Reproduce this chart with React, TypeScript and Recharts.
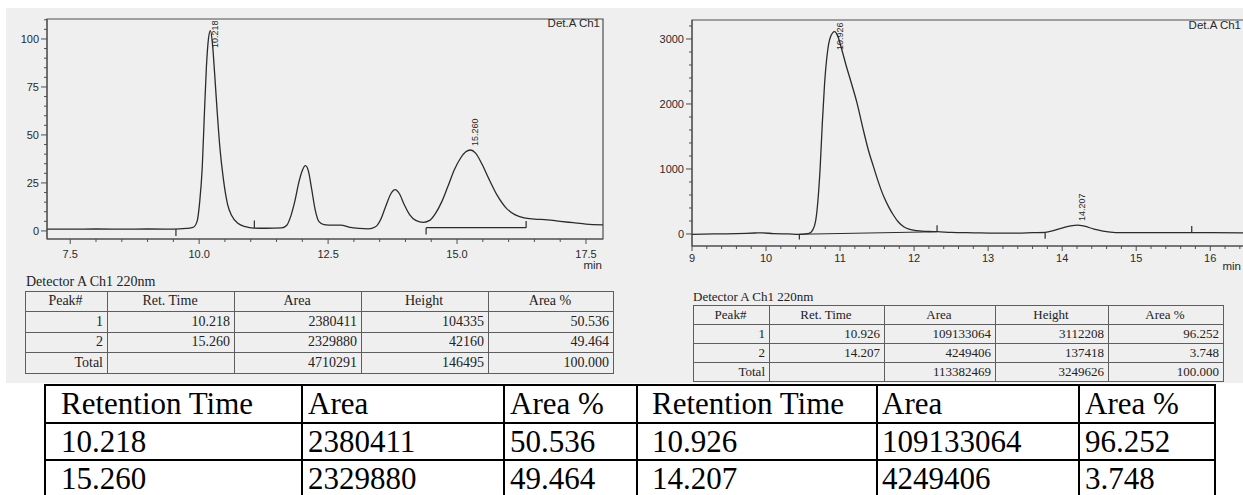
import { LineChart, Line, XAxis, YAxis, ReferenceArea, ReferenceLine, ReferenceDot } from 'recharts';

const INK = '#2b2b2b';
const AXIS = '#4e4e4e';
const SANS = '"Liberation Sans", Arial, sans-serif';
const SERIF = '"Liberation Serif", "Times New Roman", serif';

// Run A: detector signal (mAU) against retention time (min)
const traceA: [number, number][] = [
  [7.05, 0.9], [7.5, 0.9], [8.0, 1.0], [8.5, 0.9], [9.0, 1.0], [9.5, 0.9], [9.75, 1.3], [9.88, 1.8],
  [9.96, 5], [10.01, 15], [10.06, 33], [10.1, 60], [10.14, 85], [10.18, 100],
  [10.26, 97], [10.3, 82], [10.35, 62], [10.4, 44], [10.47, 27], [10.55, 14], [10.63, 8], [10.75, 4],
  [10.9, 2.2], [11.05, 1.5], [11.3, 1.4], [11.6, 1.6],
  [11.7, 3], [11.78, 8], [11.86, 16], [11.93, 25], [12.0, 31.5], [12.06, 34], [12.12, 31], [12.18, 22],
  [12.25, 11], [12.32, 5], [12.42, 3.3], [12.6, 3], [12.75, 3], [12.9, 2], [13.1, 1.3], [13.28, 1.1],
  [13.42, 2.2], [13.52, 6], [13.62, 13], [13.72, 19.5], [13.8, 21.5], [13.88, 19.5], [13.98, 13.5],
  [14.08, 8.5], [14.2, 5.5], [14.35, 4.5], [14.47, 5.5], [14.58, 9], [14.7, 15], [14.82, 23], [14.95, 32],
  [15.07, 38], [15.17, 41.2], [15.36, 40.5], [15.48, 35], [15.62, 27], [15.78, 18.5], [15.95, 12],
  [16.12, 8.5], [16.3, 6.8], [16.5, 6.2], [16.75, 5.8], [17.0, 5.0], [17.25, 4.3], [17.5, 3.6], [17.83, 3.2],
];
const peaksA = [
  { no: 1, rt: 10.218, area: 2380411, height: 104335, pct: 50.536 },
  { no: 2, rt: 15.26, area: 2329880, height: 42160, pct: 49.464 },
];
const totalA = { area: 4710291, height: 146495, pct: 100 };
// integration marks: time, level, tick length
const eventsA: [number, number, number][] = [[9.55, 0.9, -3.5], [11.07, 1.5, 4], [14.4, 1.7, -3.5], [16.34, 1.7, 3.5]];
const baselineA: [number, number][] = [[14.4, 1.7], [16.34, 1.7]];
const xMajorA = [7.5, 10, 12.5, 15, 17.5];
const yMajorA = [0, 25, 50, 75, 100];

// Run B
const traceB: [number, number][] = [
  [9.0, -5], [9.3, 0], [9.6, 5], [9.85, 15], [9.95, 18], [10.1, 5], [10.3, 0], [10.45, -5], [10.58, 10],
  [10.63, 60], [10.67, 200], [10.7, 500], [10.73, 1000], [10.76, 1700], [10.79, 2300], [10.83, 2800], [10.87, 3030],
  [10.97, 3040], [11.02, 2850], [11.08, 2600], [11.15, 2330], [11.23, 2010], [11.31, 1620], [11.38, 1300],
  [11.45, 1040], [11.52, 790], [11.59, 575], [11.66, 410], [11.72, 292], [11.79, 180], [11.86, 112], [11.93, 75],
  [11.99, 58], [12.1, 45], [12.2, 38], [12.31, 35], [12.5, 25], [12.8, 18], [13.1, 12], [13.4, 12], [13.6, 20],
  [13.77, 25], [13.88, 50], [13.98, 85], [14.1, 120], [14.3, 120], [14.43, 75], [14.55, 45], [14.65, 30],
  [14.8, 22], [15.2, 22], [15.5, 22], [15.75, 22], [16.0, 20], [16.51, 18],
];
const peaksB = [
  { no: 1, rt: 10.926, area: 109133064, height: 3112208, pct: 96.252 },
  { no: 2, rt: 14.207, area: 4249406, height: 137418, pct: 3.748 },
];
const totalB = { area: 113382469, height: 3249626, pct: 100 };
const eventsB: [number, number, number][] = [[10.45, -5, -80], [12.31, 35, 100], [13.77, 25, -100], [15.75, 22, 100]];
const baselineB: [number, number][] = [[10.45, -5], [12.31, 35]];
const xMajorB = [9, 10, 11, 12, 13, 14, 15, 16];
const yMajorB = [0, 1000, 2000, 3000];

const steps = (lo: number, hi: number, step: number) => {
  const out: number[] = [];
  for (let i = Math.ceil(lo / step - 1e-9); i * step <= hi + 1e-9; i++) out.push(+(i * step).toFixed(3));
  return out;
};
const isMajor = (majors: number[], v: number) => majors.some((m) => Math.abs(m - v) < 1e-6);

const XTick = ({ x, y, payload, majors, digits, dy }: any) => {
  const major = isMajor(majors, payload.value);
  return (
    <g>
      <line x1={x} x2={x} y1={y} y2={y + (major ? 5 : 3)} stroke={AXIS} />
      {major && (
        <text x={x} y={y + dy} textAnchor="middle" fontSize={11} fontFamily={SANS} fill="#2a2a2a">
          {payload.value.toFixed(digits)}
        </text>
      )}
    </g>
  );
};

const YTick = ({ x, y, payload, majors }: any) => {
  const major = isMajor(majors, payload.value);
  return (
    <g>
      <line x1={x - (major ? 6 : 3)} x2={x} y1={y} y2={y} stroke={AXIS} />
      {major && (
        <text x={x - 8} y={y} dy="0.35em" textAnchor="end" fontSize={11} fontFamily={SANS} fill="#2a2a2a">
          {payload.value}
        </text>
      )}
    </g>
  );
};

// retention time printed upright beside the apex, kept below the frame top
const PeakTag = ({ cx, cy, text, floor }: any) => (
  <text
    transform={`translate(${cx + 5},${Math.max(cy - 4, floor)}) rotate(-90)`}
    dominantBaseline="central"
    fontSize={9}
    fontFamily={SANS}
    fill="#2a2a2a"
  >
    {text}
  </text>
);

type Run = {
  trace: [number, number][];
  peaks: typeof peaksA;
  events: [number, number, number][];
  baseline: [number, number][];
  xDomain: [number, number];
  yDomain: [number, number];
  xMajor: number[];
  xStep: number;
  xDigits: number;
  yMajor: number[];
  yStep: number;
};

const runA: Run = {
  trace: traceA, peaks: peaksA, events: eventsA, baseline: baselineA,
  xDomain: [7.05, 17.83], yDomain: [-4.2, 110.4],
  xMajor: xMajorA, xStep: 0.5, xDigits: 1, yMajor: yMajorA, yStep: 5,
};
const runB: Run = {
  trace: traceB, peaks: peaksB, events: eventsB, baseline: baselineB,
  xDomain: [9, 16.51], yDomain: [-185, 3292],
  xMajor: xMajorB, xStep: 0.2, xDigits: 0, yMajor: yMajorB, yStep: 200,
};

function Chromatogram({ run, width, height, margin, yAxisWidth, xAxisHeight, labelDy, tagFloor }: any) {
  const r: Run = run;
  const data = [
    ...r.trace.map(([t, v]) => ({ t, v })),
    ...r.peaks.map((p) => ({ t: p.rt, v: p.height / 1000 })),
  ].sort((a, b) => a.t - b.t);
  const base = r.baseline.map(([t, v]) => ({ t, v }));
  return (
    <LineChart width={width} height={height} margin={margin}>
      <XAxis
        type="number"
        dataKey="t"
        domain={r.xDomain}
        allowDataOverflow
        ticks={steps(r.xDomain[0], r.xDomain[1], r.xStep)}
        interval={0}
        tickSize={0}
        tickMargin={0}
        tickLine={false}
        height={xAxisHeight}
        stroke={AXIS}
        tick={(p: any) => <XTick {...p} majors={r.xMajor} digits={r.xDigits} dy={labelDy} />}
      />
      <YAxis
        type="number"
        domain={r.yDomain}
        allowDataOverflow
        ticks={steps(0, r.yDomain[1], r.yStep)}
        interval={0}
        tickSize={0}
        tickMargin={0}
        tickLine={false}
        width={yAxisWidth}
        stroke={AXIS}
        tick={(p: any) => <YTick {...p} majors={r.yMajor} />}
      />
      <ReferenceArea
        x1={r.xDomain[0]}
        x2={r.xDomain[1]}
        y1={r.yDomain[0]}
        y2={r.yDomain[1]}
        fill="none"
        stroke={AXIS}
        strokeWidth={1.2}
      />
      <Line data={base} dataKey="v" type="linear" stroke={INK} strokeWidth={1.1} dot={false} isAnimationActive={false} />
      <Line data={data} dataKey="v" type="monotone" stroke={INK} strokeWidth={1.3} dot={false} isAnimationActive={false} />
      {r.events.map(([t, v, d]) => (
        <ReferenceLine key={t} segment={[{ x: t, y: v }, { x: t, y: v + d }]} stroke={INK} strokeWidth={1.2} />
      ))}
      {r.peaks.map((p) => (
        <ReferenceDot
          key={p.no}
          x={p.rt}
          y={p.height / 1000}
          r={0}
          shape={(s: any) => <PeakTag cx={s.cx} cy={s.cy} text={p.rt.toFixed(3)} floor={tagFloor} />}
        />
      ))}
    </LineChart>
  );
}

type Cell = { text: string; align: 'left' | 'center' | 'right' };

function GridTable({ left, top, cols, rowH, rows, fontSize, color, line, lw, pads, family }: any) {
  const xs: number[] = (cols as number[]).reduce((acc: number[], w: number) => [...acc, acc[acc.length - 1] + w], [0]);
  const W = xs[xs.length - 1];
  const H = rowH * rows.length;
  return (
    <div style={{ position: 'absolute', left, top, width: W, height: H }}>
      {xs.map((x, i) => (
        <div key={'v' + i} style={{ position: 'absolute', left: x - lw / 2, top: -lw / 2, width: lw, height: H + lw, background: line }} />
      ))}
      {rows.concat([null]).map((_: any, i: number) => (
        <div key={'h' + i} style={{ position: 'absolute', left: -lw / 2, top: i * rowH - lw / 2, width: W + lw, height: lw, background: line }} />
      ))}
      {(rows as Cell[][]).map((row, ri) =>
        row.map((c, ci) => (
          <div
            key={ri + '-' + ci}
            style={{
              position: 'absolute',
              left: xs[ci] + pads[ci],
              width: cols[ci] - pads[ci] - 4,
              top: ri * rowH,
              height: rowH,
              lineHeight: rowH + 'px',
              textAlign: c.align,
              fontSize,
              fontFamily: family,
              color,
              whiteSpace: 'nowrap',
            }}
          >
            {c.text}
          </div>
        )),
      )}
    </div>
  );
}

const peakRows = (peaks: typeof peaksA, total: typeof totalA): Cell[][] => [
  ['Peak#', 'Ret. Time', 'Area', 'Height', 'Area %'].map((t) => ({ text: t, align: 'center' as const })),
  ...peaks.map((p) =>
    [String(p.no), p.rt.toFixed(3), String(p.area), String(p.height), p.pct.toFixed(3)].map((t) => ({ text: t, align: 'right' as const })),
  ),
  ['Total', '', String(total.area), String(total.height), total.pct.toFixed(3)].map((t) => ({ text: t, align: 'right' as const })),
];

const summaryRows: Cell[][] = [
  ['Retention Time', 'Area', 'Area %', 'Retention Time', 'Area', 'Area %'].map((t) => ({ text: t, align: 'left' as const })),
  ...peaksA.map((a, i) => {
    const b = peaksB[i];
    return [a.rt.toFixed(3), String(a.area), a.pct.toFixed(3), b.rt.toFixed(3), String(b.area), b.pct.toFixed(3)].map((t) => ({
      text: t,
      align: 'left' as const,
    }));
  }),
];

const caption = (left: number, top: number, size: number) => (
  <div style={{ position: 'absolute', left, top, fontSize: size, fontFamily: SERIF, color: '#222', whiteSpace: 'nowrap' }}>
    Detector A Ch1 220nm
  </div>
);

// small chart annotations, right-aligned to the given x
const note = (right: number, top: number, text: string) => (
  <div
    style={{
      position: 'absolute',
      right: 1243 - right,
      top,
      fontSize: 11.5,
      fontFamily: SANS,
      color: '#2a2a2a',
      whiteSpace: 'nowrap',
    }}
  >
    {text}
  </div>
);

export default function App() {
  return (
    <div style={{ position: 'absolute', left: 0, top: 0, width: 1243, height: 495, background: '#fff', overflow: 'hidden' }}>
      <div style={{ position: 'absolute', left: 6, top: 8, width: 1237, height: 375, background: '#efefef' }} />

      <div style={{ position: 'absolute', left: 0, top: 0 }}>
        <Chromatogram
          run={runA}
          width={620}
          height={280}
          margin={{ top: 19, right: 17, bottom: 0, left: 0 }}
          yAxisWidth={47}
          xAxisHeight={41}
          labelDy={19}
          tagFloor={48}
        />
      </div>
      {note(600, 17, 'Det.A Ch1')}
      {note(602, 259, 'min')}

      <div style={{ position: 'absolute', left: 620, top: 0, width: 623, height: 300, overflow: 'hidden' }}>
        <Chromatogram
          run={runB}
          width={640}
          height={290}
          margin={{ top: 20, right: 12, bottom: 0, left: 0 }}
          yAxisWidth={72}
          xAxisHeight={44}
          labelDy={16}
          tagFloor={50}
        />
      </div>
      {note(1241, 19, 'Det.A Ch1')}
      {note(1241, 260, 'min')}

      {caption(26, 274, 14)}
      <GridTable
        left={25}
        top={291}
        cols={[82, 127, 127, 127, 125]}
        rowH={20.5}
        rows={peakRows(peaksA, totalA)}
        fontSize={14}
        color="#222"
        line="#5e5e5e"
        lw={1}
        pads={[3, 3, 3, 3, 3]}
        family={SERIF}
      />

      {caption(693, 289, 13)}
      <GridTable
        left={693}
        top={305}
        cols={[76, 115, 111, 113, 115]}
        rowH={19}
        rows={peakRows(peaksB, totalB)}
        fontSize={13}
        color="#222"
        line="#5e5e5e"
        lw={1}
        pads={[3, 3, 3, 3, 3]}
        family={SERIF}
      />

      <GridTable
        left={45}
        top={385}
        cols={[257, 202, 133, 240, 202, 136]}
        rowH={37.5}
        rows={summaryRows}
        fontSize={31}
        color="#000"
        line="#000"
        lw={2}
        pads={[16, 6, 6, 15, 5, 6]}
        family={SERIF}
      />
    </div>
  );
}
